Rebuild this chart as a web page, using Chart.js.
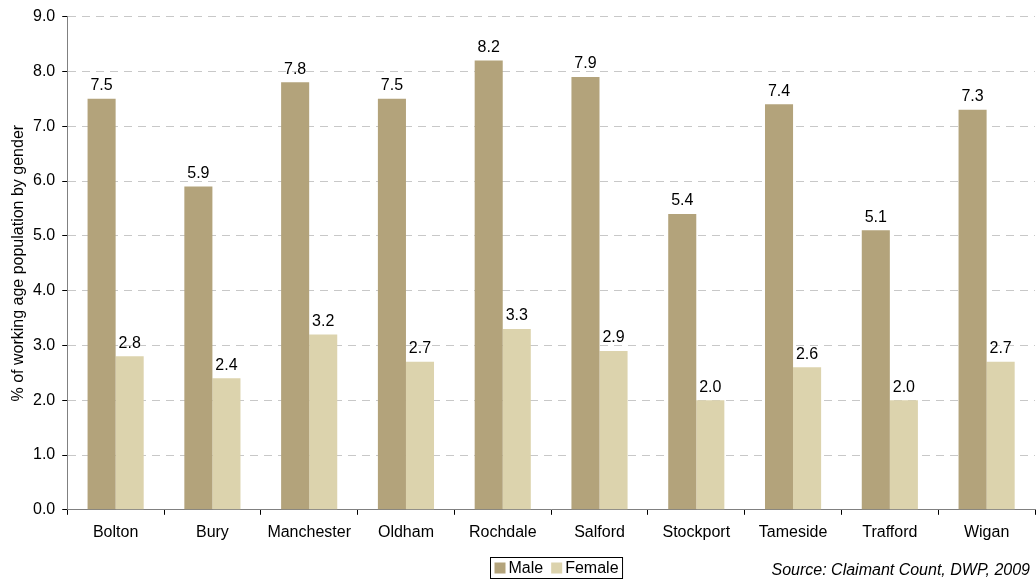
<!DOCTYPE html>
<html>
<head>
<meta charset="utf-8">
<script src="https://cdn.jsdelivr.net/npm/chart.js@4"></script>
<style>
  html, body { margin: 0; padding: 0; background: #fff; }
  #wrap { width: 1036px; height: 580px; position: relative; }
</style>
</head>
<body>
<div id="wrap"><canvas id="genderChart"></canvas></div>
<script>
const districts = ["Bolton", "Bury", "Manchester", "Oldham", "Rochdale", "Salford", "Stockport", "Tameside", "Trafford", "Wigan"];
const maleRates = [7.5, 5.9, 7.8, 7.5, 8.2, 7.9, 5.4, 7.4, 5.1, 7.3];
const femaleRates = [2.8, 2.4, 3.2, 2.7, 3.3, 2.9, 2.0, 2.6, 2.0, 2.7];
const seriesNames = ["Male", "Female"];
const yTitle = "% of working age population by gender";
const sourceNote = "Source: Claimant Count, DWP, 2009";

const maleColour = "#B3A37B";
const femaleColour = "#DCD3AD";
const fontFamily = "'Liberation Sans', Arial, sans-serif";

// value labels above each bar
const barLabels = {
  id: "barLabels",
  afterDatasetsDraw(chart) {
    const ctx = chart.ctx;
    ctx.save();
    ctx.font = "16px " + fontFamily;
    ctx.fillStyle = "#000";
    ctx.textAlign = "center";
    ctx.textBaseline = "bottom";
    chart.data.datasets.forEach((ds, i) => {
      chart.getDatasetMeta(i).data.forEach((bar, j) => {
        ctx.fillText(ds.data[j].toFixed(1), bar.x, bar.y - 5);
      });
    });
    ctx.restore();
  },
};

// rotated y title, boxed legend, source note
const extras = {
  id: "extras",
  afterDraw(chart) {
    const ctx = chart.ctx;
    const area = chart.chartArea;
    ctx.save();
    ctx.font = "16px " + fontFamily;
    ctx.fillStyle = "#000";
    ctx.textAlign = "center";
    ctx.textBaseline = "middle";
    ctx.translate(19, (area.top + area.bottom) / 2);
    ctx.rotate(-Math.PI / 2);
    ctx.fillText(yTitle, 0, 0);
    ctx.restore();

    ctx.save();
    ctx.font = "16px " + fontFamily;
    ctx.textBaseline = "middle";
    const sw = 11, gap = 3, itemGap = 8;
    const widths = chart.data.datasets.map((ds) => sw + gap + ctx.measureText(ds.label).width);
    const total = widths.reduce((a, b) => a + b, 0) + itemGap * (widths.length - 1) + 8;
    const boxL = Math.round(556 - total / 2) + 0.5;
    const boxT = 557.5, boxH = 21;
    ctx.strokeStyle = "#000";
    ctx.lineWidth = 1;
    ctx.strokeRect(boxL, boxT, total, boxH);
    let x = boxL + 4;
    const y = boxT + boxH / 2;
    chart.data.datasets.forEach((ds, i) => {
      ctx.fillStyle = ds.backgroundColor;
      ctx.fillRect(x, y - sw / 2, sw, sw);
      ctx.fillStyle = "#000";
      ctx.textAlign = "left";
      ctx.fillText(ds.label, x + sw + gap, y + 1);
      x += widths[i] + itemGap;
    });
    ctx.font = "italic 16px " + fontFamily;
    ctx.textAlign = "right";
    ctx.fillText(sourceNote, 1030, 571);
    ctx.restore();
  },
};

new Chart(document.getElementById("genderChart"), {
  type: "bar",
  data: {
    labels: districts,
    datasets: [
      { label: seriesNames[0], data: maleRates, backgroundColor: maleColour },
      { label: seriesNames[1], data: femaleRates, backgroundColor: femaleColour },
    ],
  },
  options: {
    responsive: true,
    maintainAspectRatio: false,
    animation: false,
    layout: { padding: { top: 4, right: 1, bottom: 30, left: 26 } },
    datasets: { bar: { categoryPercentage: 0.58, barPercentage: 1.0 } },
    plugins: {
      legend: { display: false },
      tooltip: { enabled: false },
    },
    scales: {
      x: {
        grid: { display: true, drawOnChartArea: false, offset: true, color: "#000", tickLength: 5 },
        border: { display: true, color: "#808080", width: 1 },
        ticks: { color: "#000", font: { family: fontFamily, size: 16 }, padding: 8 },
      },
      y: {
        min: 0,
        max: 9,
        ticks: {
          stepSize: 1,
          color: "#000",
          font: { family: fontFamily, size: 16 },
          padding: 7,
          callback: (v) => v.toFixed(1),
        },
        grid: { color: "#c8c8c8", tickColor: "#000", tickLength: 5, lineWidth: 1 },
        border: { display: true, color: "#808080", width: 1, dash: [8, 6] },
      },
    },
  },
  plugins: [barLabels, extras],
});
</script>
</body>
</html>
